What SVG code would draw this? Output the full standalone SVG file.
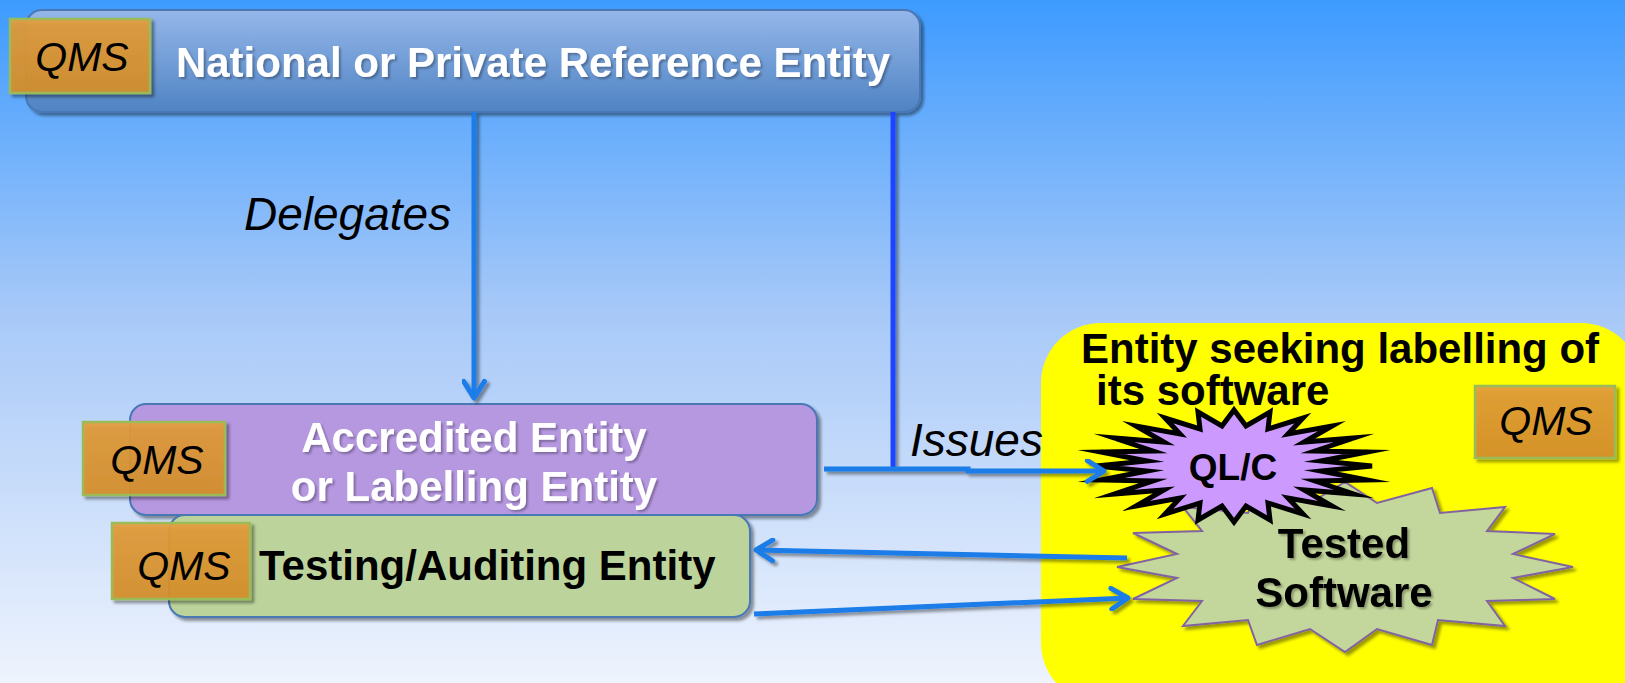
<svg xmlns="http://www.w3.org/2000/svg" width="1625" height="683" viewBox="0 0 1625 683">
<defs>
<linearGradient id="bg" x1="0" y1="0" x2="0" y2="1">
<stop offset="0" stop-color="#3d9bff"/>
<stop offset="0.45" stop-color="#a6c8f8"/>
<stop offset="1" stop-color="#eef3fd"/>
</linearGradient>
<linearGradient id="topg" x1="0" y1="0" x2="0" y2="1">
<stop offset="0" stop-color="#95b7ea"/>
<stop offset="1" stop-color="#4f83c3"/>
</linearGradient>
<linearGradient id="qmsg" x1="0" y1="0" x2="0" y2="1">
<stop offset="0" stop-color="#e8a040"/>
<stop offset="0.12" stop-color="#e09a38"/>
<stop offset="1" stop-color="#d58f2a"/>
</linearGradient>
<filter id="sh" x="-10%" y="-10%" width="130%" height="140%">
<feDropShadow dx="3" dy="3" stdDeviation="1.5" flood-color="#000" flood-opacity="0.4"/>
</filter>
<filter id="tsh" x="-5%" y="-20%" width="110%" height="150%">
<feDropShadow dx="2" dy="2" stdDeviation="1" flood-color="#000" flood-opacity="0.3"/>
</filter>
<marker id="arrB" viewBox="0 0 12 12" refX="10" refY="6" markerWidth="5" markerHeight="5" orient="auto" markerUnits="strokeWidth">
<path d="M2,1 L10,6 L2,11" fill="none" stroke="#1a7be8" stroke-width="2.4" stroke-linecap="round" stroke-linejoin="round"/>
</marker>
</defs>
<style>
.box{stroke:#4a78b5;stroke-width:2;}
.qms{fill:url(#qmsg);stroke:#9bbb59;stroke-width:2.5;fill-opacity:0.92;}
.qt{font-family:"Liberation Sans",Arial,sans-serif;font-style:italic;font-size:41px;fill:#000;text-anchor:middle;}
.wt{font-family:"Liberation Sans",Arial,sans-serif;font-weight:bold;font-size:42px;fill:#fff;text-anchor:middle;}
.bt{font-family:"Liberation Sans",Arial,sans-serif;font-weight:bold;font-size:42px;fill:#000;}
.lbl{font-family:"Liberation Sans",Arial,sans-serif;font-style:italic;font-size:46px;fill:#000;}
.ln{fill:none;stroke:#1a7be8;stroke-width:5;}
</style>
<rect x="0" y="0" width="1625" height="683" fill="url(#bg)"/>

<g id="national">
<rect x="26" y="10" width="894" height="102" rx="16" fill="url(#topg)" class="box" filter="url(#sh)"/>
<text x="533" y="77" class="wt" filter="url(#tsh)">National or Private Reference Entity</text>
</g>
<g id="qms-national">
<rect x="10" y="19" width="140" height="74" class="qms" filter="url(#sh)"/>
<text x="82" y="71" class="qt">QMS</text>
</g>

<g id="entity-seeking">
<rect x="1041" y="323" width="600" height="380" rx="60" fill="#ffff00"/>
<text x="1081" y="363" class="bt">Entity seeking labelling of</text>
<text x="1096" y="405" class="bt">its software</text>
</g>
<g id="qms-seeking">
<rect x="1475" y="386" width="140" height="72" class="qms" filter="url(#sh)"/>
<text x="1546" y="435" class="qt">QMS</text>
</g>

<g id="tested-software">
<polygon fill="#c3d69b" stroke="#8064a2" stroke-width="2" filter="url(#sh)" points="1117,567 1177,554 1133,533 1202,531 1183,507 1248,513 1257,488 1310,503 1345,482 1377,503 1432,488 1440,513 1505,507 1487,531 1555,534 1513,554 1573,567 1513,578 1555,599 1487,601 1505,626 1438,620 1432,645 1377,629 1345,652 1310,629 1257,645 1248,620 1183,626 1202,601 1133,599 1177,578"/>
<text x="1344" y="558" class="bt" text-anchor="middle" filter="url(#tsh)">Tested</text>
<text x="1344" y="607" class="bt" text-anchor="middle" filter="url(#tsh)">Software</text>
</g>

<g id="qlc">
<polygon fill="#cc99ff" stroke="#000" stroke-width="5" stroke-linejoin="miter" stroke-miterlimit="10" points="1372,466 1321,471 1367,480 1315,481 1354,494 1304,490 1332,506 1288,498 1303,514 1268,503 1270,520 1246,506 1234,522 1222,506 1198,520 1200,503 1165,514 1180,498 1136,506 1164,490 1114,494 1153,481 1101,480 1147,471 1096,466 1147,461 1101,452 1153,451 1114,438 1164,442 1136,426 1180,434 1165,418 1200,429 1198,412 1222,426 1234,410 1246,426 1270,412 1268,429 1303,418 1288,434 1332,426 1304,442 1354,438 1315,451 1367,452 1321,461"/>
<text x="1233" y="480" class="bt" text-anchor="middle" style="font-size:37px">QL/C</text>
</g>

<g id="accredited">
<rect x="130" y="404" width="687" height="111" rx="16" fill="#b698e1" class="box" filter="url(#sh)"/>
<text x="474" y="452" class="wt" filter="url(#tsh)">Accredited Entity</text>
<text x="474" y="501" class="wt" filter="url(#tsh)">or Labelling Entity</text>
</g>
<g id="qms-accredited">
<rect x="83" y="422" width="142" height="73" class="qms" filter="url(#sh)"/>
<text x="157" y="474" class="qt">QMS</text>
</g>

<g id="testing">
<rect x="169" y="515" width="581" height="102" rx="16" fill="#bcd49c" class="box" filter="url(#sh)"/>
<text x="259" y="580" class="bt">Testing/Auditing Entity</text>
</g>
<g id="qms-testing">
<rect x="112" y="523" width="138" height="76" class="qms" filter="url(#sh)"/>
<text x="184" y="580" class="qt">QMS</text>
</g>

<g id="connectors" filter="url(#sh)">
<line x1="474" y1="112" x2="474" y2="398" class="ln" marker-end="url(#arrB)"/>
<line x1="893" y1="112" x2="893" y2="468" fill="none" stroke="#1e44ff" stroke-width="5"/>
<polyline points="824,469 968,469 968,471 1104,471" class="ln" marker-end="url(#arrB)"/>
<line x1="1127" y1="558" x2="756" y2="550" class="ln" marker-end="url(#arrB)"/>
<line x1="754" y1="614" x2="1128" y2="598" class="ln" marker-end="url(#arrB)"/>
</g>

<text x="244" y="230" class="lbl">Delegates</text>
<text x="910" y="456" class="lbl">Issues</text>
</svg>
